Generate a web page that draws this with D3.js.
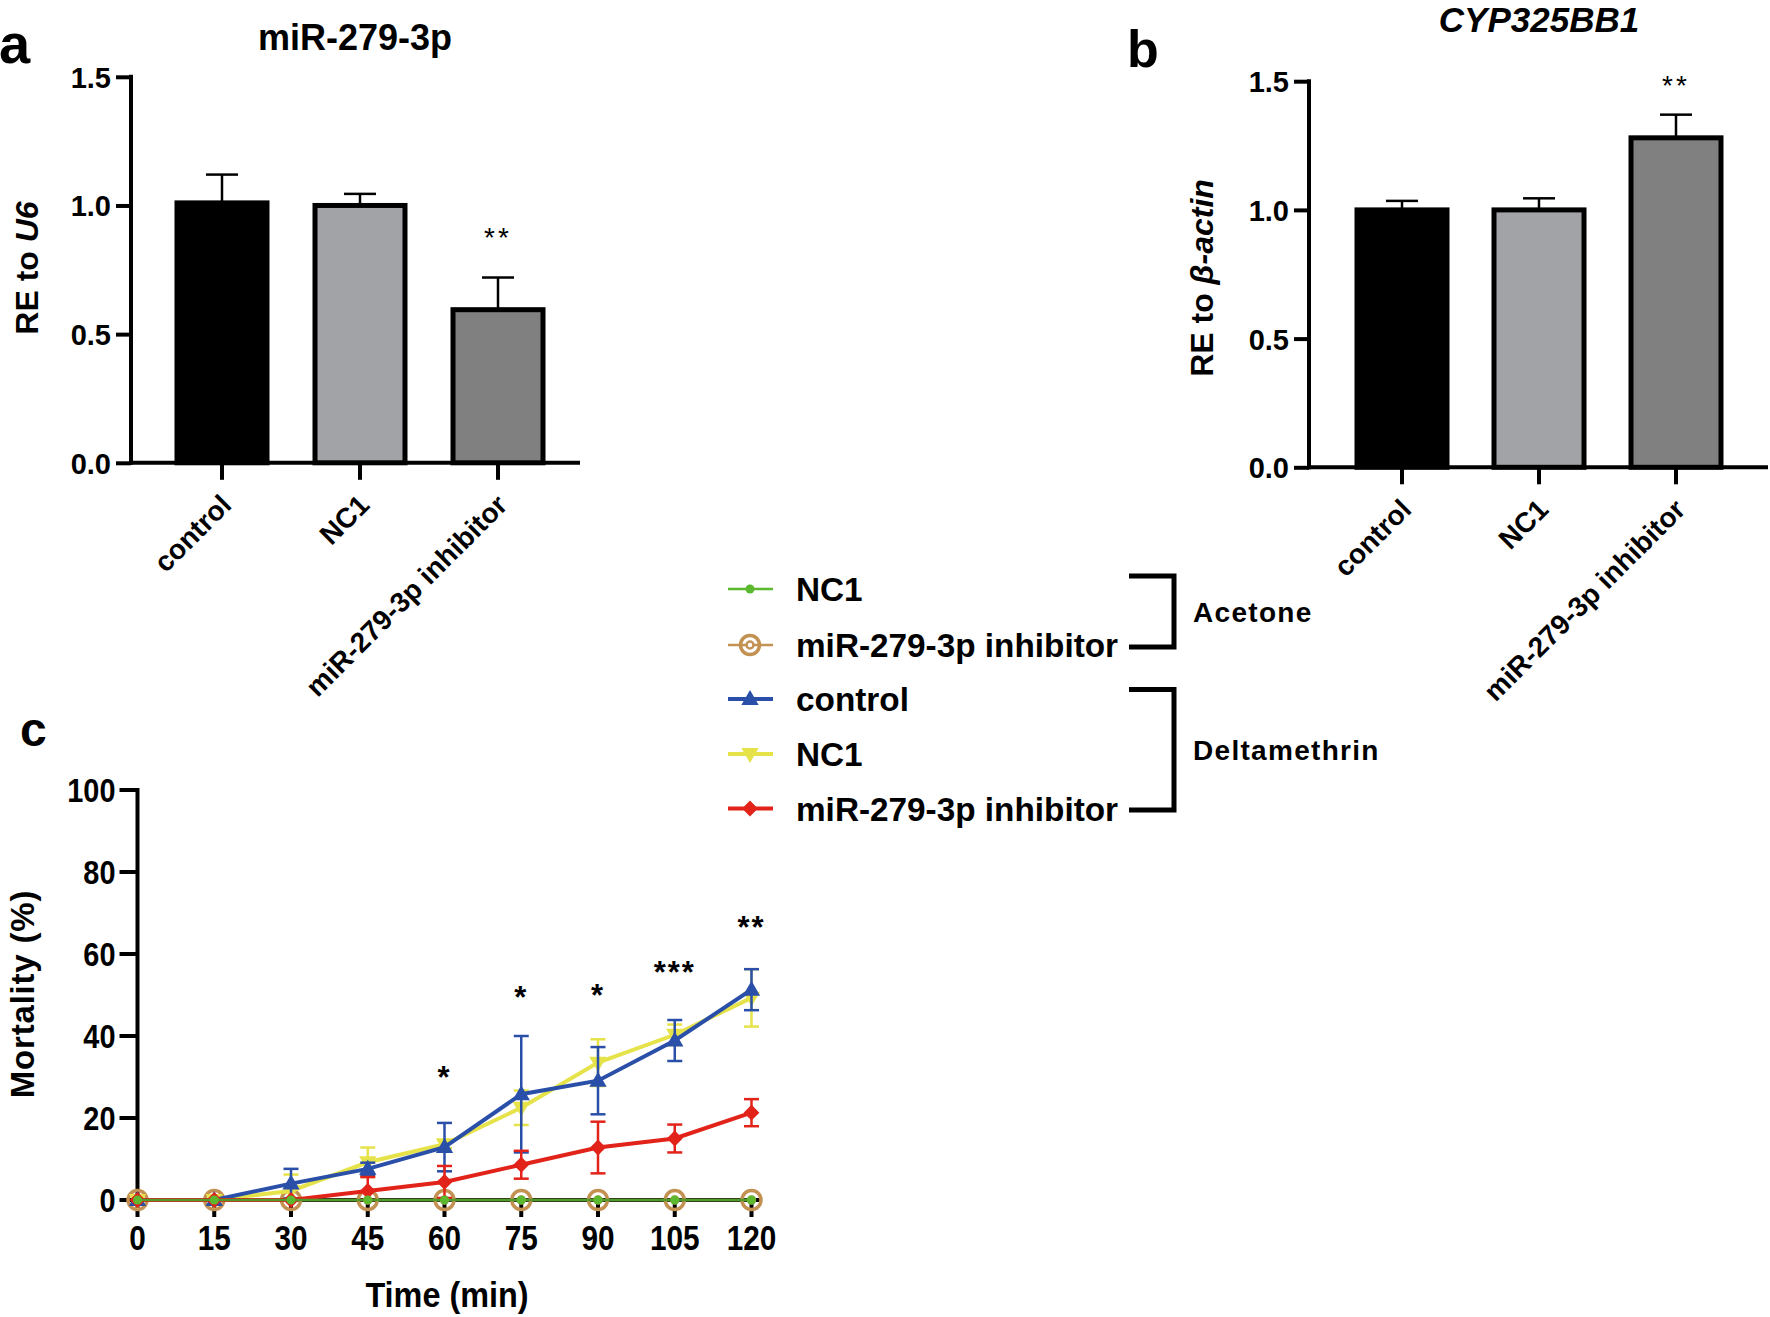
<!DOCTYPE html>
<html><head><meta charset="utf-8">
<script src="https://cdn.jsdelivr.net/npm/d3@7"></script>
<style>
html,body{margin:0;padding:0;background:#fff;}
svg{display:block;}
text{font-family:"Liberation Sans", Arial, Helvetica, sans-serif; font-weight:bold; fill:#000;}
</style></head><body>
<svg id="chart" width="1770" height="1317"></svg>
<script>
// ---------- data ----------
const categories = ["control", "NC1", "miR-279-3p inhibitor"];
const barColors = ["#000000", "#a2a3a7", "#808080"];
const miR279Mean = [1.01, 1.00, 0.595];
const miR279Err = [0.11, 0.045, 0.125];
const miR279Sig = ["", "", "**"];
const miR279SigLevel = [0, 0, 0.90];
const cypMean = [1.00, 1.00, 1.28];
const cypErr = [0.035, 0.045, 0.09];
const cypSig = ["", "", "**"];
const cypSigLevel = [0, 0, 1.51];
const barTicks = [0, 0.5, 1.0, 1.5];

const times = [0, 15, 30, 45, 60, 75, 90, 105, 120];
const mortTicks = [0, 20, 40, 60, 80, 100];
const acetoneNC1 = [0, 0, 0, 0, 0, 0, 0, 0, 0];
const acetoneInhibitor = [0, 0, 0, 0, 0, 0, 0, 0, 0];
const deltaControl = [0, 0, 4.0, 7.6, 12.9, 25.8, 29.1, 38.9, 51.3];
const deltaControlErr = [0, 0, 3.6, 1.5, 5.9, 14.2, 8.2, 5.0, 5.0];
const deltaNC1 = [0, 0, 2.2, 9.2, 13.6, 22.5, 33.5, 40.3, 49.3];
const deltaNC1Err = [0, 0, 4.0, 3.6, 1.0, 4.2, 5.7, 2.5, 7.0];
const deltaInhibitor = [0, 0, 0, 2.2, 4.4, 8.6, 12.8, 15.0, 21.3];
const deltaInhibitorErr = [0, 0, 0, 3.4, 3.9, 3.4, 6.3, 3.4, 3.3];
const sigTimes = [60, 75, 90, 105, 120];
const sigLabels = ["*", "*", "*", "***", "**"];
const sigLevels = [31.5, 51.0, 51.4, 57.1, 68.0];

const legendLabels = ["NC1", "miR-279-3p inhibitor", "control", "NC1", "miR-279-3p inhibitor"];
const legendColors = ["#5cb82e", "#c39253", "#2a4fa8", "#e6e34a", "#e2231a"];
const legendSymbols = ["dot", "ring", "triUp", "triDown", "diamond"];
const groupLabels = ["Acetone", "Deltamethrin"];

// ---------- drawing ----------
const svg = d3.select("#chart");
const AX = 4;

function ctext(g, x, y, str, size, sx, anchor) {
  return g.append("text")
    .attr("transform", `translate(${x},${y}) scale(${sx},1)`)
    .attr("text-anchor", anchor)
    .style("font-size", size + "px")
    .text(str);
}

function barPanel(o) {
  const g = svg.append("g");
  const y = d3.scaleLinear().domain([0, 1.5]).range([o.y0, o.y15]);
  const x = d3.scalePoint().domain(categories).range([o.c0, o.c2]);
  // y axis
  const ya = g.append("g").attr("transform", `translate(${o.axisX},0)`)
    .call(d3.axisLeft(y).tickValues(barTicks).tickFormat(d3.format(".1f")).tickSize(15).tickSizeOuter(0).tickPadding(5));
  ya.select(".domain").attr("stroke-width", AX).attr("d", `M0,${o.y0 + 2}V${o.y15 - 2}`);
  ya.selectAll(".tick line").attr("stroke-width", AX);
  ya.selectAll(".tick text").style("font-size", "29px").style("font-family", '"Liberation Sans", Arial, sans-serif').style("font-weight", "bold").attr("dy", "0.36em");
  // x axis line
  g.append("line").attr("x1", o.axisX - 2).attr("x2", o.xEnd).attr("y1", o.y0).attr("y2", o.y0)
    .attr("stroke", "#000").attr("stroke-width", AX);
  // error bars
  categories.forEach((c, i) => {
    const cx = x(c);
    const top = y(o.mean[i] + o.err[i]);
    g.append("line").attr("x1", cx).attr("x2", cx).attr("y1", y(o.mean[i])).attr("y2", top).attr("stroke", "#000").attr("stroke-width", 2.5);
    g.append("line").attr("x1", cx - 16).attr("x2", cx + 16).attr("y1", top).attr("y2", top).attr("stroke", "#000").attr("stroke-width", 2.5);
  });
  // bars
  g.selectAll("rect.bar").data(categories).join("rect")
    .attr("x", c => x(c) - 45).attr("width", 90)
    .attr("y", (c, i) => y(o.mean[i])).attr("height", (c, i) => y(0) - y(o.mean[i]))
    .attr("fill", (c, i) => barColors[i]).attr("stroke", "#000").attr("stroke-width", 5);
  // x ticks
  categories.forEach(c => {
    g.append("line").attr("x1", x(c)).attr("x2", x(c)).attr("y1", o.y0).attr("y2", o.y0 + 17).attr("stroke", "#000").attr("stroke-width", AX);
    g.append("text").attr("transform", `translate(${x(c) + 4},${o.y0 + 37}) rotate(-45)`)
      .attr("text-anchor", "end").attr("dy", "0.35em").style("font-size", "28px").text(c);
  });
  // significance
  categories.forEach((c, i) => {
    if (!o.sig[i]) return;
    g.append("text").attr("x", x(c)).attr("y", y(o.sigLevel[i]) + 16).attr("text-anchor", "middle")
      .style("font-size", "28px").style("font-weight", "normal").style("letter-spacing", "3px").text(o.sig[i]);
  });
  // title
  const t = g.append("text").attr("x", o.titleX).attr("y", o.titleY).attr("text-anchor", "middle").style("font-size", o.titleSize + "px").text(o.title);
  if (o.titleItalic) t.style("font-style", "italic");
  // y label
  const yl = g.append("text").attr("transform", `translate(${o.ylX},${o.ylY}) rotate(-90)`).attr("text-anchor", "middle").style("font-size", "32px");
  yl.append("tspan").text(o.ylPlain);
  yl.append("tspan").style("font-style", "italic").text(o.ylItalic);
  // panel letter
  g.append("text").attr("x", o.letterX).attr("y", o.letterY).style("font-size", o.letterSize + "px").text(o.letter);
}

barPanel({ y0: 462.8, y15: 76.8, c0: 222, c2: 498, axisX: 131, xEnd: 580, mean: miR279Mean, err: miR279Err,
  sig: miR279Sig, sigLevel: miR279SigLevel, title: "miR-279-3p", titleX: 355, titleY: 50, titleSize: 36, titleItalic: false,
  ylX: 38, ylY: 268, ylPlain: "RE to ", ylItalic: "U6", letter: "a", letterX: -1, letterY: 63, letterSize: 56 });

barPanel({ y0: 467.3, y15: 81.2, c0: 1402, c2: 1676, axisX: 1309, xEnd: 1768, mean: cypMean, err: cypErr,
  sig: cypSig, sigLevel: cypSigLevel, title: "CYP325BB1", titleX: 1539, titleY: 32, titleSize: 35, titleItalic: true,
  ylX: 1213, ylY: 278, ylPlain: "RE to ", ylItalic: "β-actin", letter: "b", letterX: 1127, letterY: 67, letterSize: 52 });

// ---------- panel c ----------
const gc = svg.append("g");
const xc = d3.scaleLinear().domain([0, 120]).range([137.5, 751.5]);
const yc = d3.scaleLinear().domain([0, 100]).range([1200, 790]);

// y axis
gc.append("line").attr("x1", xc(0)).attr("x2", xc(0)).attr("y1", yc(0) + 2).attr("y2", yc(100) - 2).attr("stroke", "#000").attr("stroke-width", AX);
mortTicks.forEach(v => {
  gc.append("line").attr("x1", xc(0) - 18).attr("x2", xc(0)).attr("y1", yc(v)).attr("y2", yc(v)).attr("stroke", "#000").attr("stroke-width", AX);
  ctext(gc, xc(0) - 22, yc(v) + 12, String(v), 34, 0.85, "end");
});
// x axis
gc.append("line").attr("x1", xc(0) - 2).attr("x2", 760).attr("y1", yc(0)).attr("y2", yc(0)).attr("stroke", "#000").attr("stroke-width", AX);
times.forEach(t => {
  gc.append("line").attr("x1", xc(t)).attr("x2", xc(t)).attr("y1", yc(0)).attr("y2", yc(0) + 17).attr("stroke", "#000").attr("stroke-width", AX);
  ctext(gc, xc(t), 1250, String(t), 35, 0.85, "middle");
});
ctext(gc, 447, 1307, "Time (min)", 36, 0.9, "middle");
gc.append("text").attr("transform", "translate(34,994) rotate(-90)").attr("text-anchor", "middle")
  .style("font-size", "33px").style("letter-spacing", "0.8px").text("Mortality (%)");
gc.append("text").attr("x", 20).attr("y", 746).style("font-size", "48px").text("c");

const line = d3.line().x((d, i) => xc(times[i])).y(d => yc(d));

function drawMarker(g, type, color, cx, cy) {
  if (type === "dot") {
    g.append("circle").attr("cx", cx).attr("cy", cy).attr("r", 4.5).attr("fill", color);
  } else if (type === "ring") {
    g.append("circle").attr("cx", cx).attr("cy", cy).attr("r", 9.5).attr("fill", "none").attr("stroke", color).attr("stroke-width", 3.5);
    g.append("circle").attr("cx", cx).attr("cy", cy).attr("r", 3.5).attr("fill", "#fff").attr("stroke", color).attr("stroke-width", 2.5);
  } else if (type === "triUp") {
    g.append("path").attr("transform", `translate(${cx},${cy + 1})`).attr("d", d3.symbol(d3.symbolTriangle, 130)()).attr("fill", color);
  } else if (type === "triDown") {
    g.append("path").attr("transform", `translate(${cx},${cy - 1}) rotate(180)`).attr("d", d3.symbol(d3.symbolTriangle, 130)()).attr("fill", color);
  } else if (type === "diamond") {
    g.append("path").attr("transform", `translate(${cx},${cy}) rotate(45)`).attr("d", d3.symbol(d3.symbolSquare, 125)()).attr("fill", color);
  }
}

function series(vals, errs, color, type, lw) {
  const g = gc.append("g");
  if (errs) {
    vals.forEach((v, i) => {
      if (!errs[i]) return;
      const cx = xc(times[i]);
      [v + errs[i], v - errs[i]].forEach(e => {
        const ev = Math.max(0, e);
        g.append("line").attr("x1", cx).attr("x2", cx).attr("y1", yc(v)).attr("y2", yc(ev)).attr("stroke", color).attr("stroke-width", 2.5);
        g.append("line").attr("x1", cx - 7.5).attr("x2", cx + 7.5).attr("y1", yc(ev)).attr("y2", yc(ev)).attr("stroke", color).attr("stroke-width", 2.5);
      });
    });
  }
  g.append("path").attr("d", line(vals)).attr("fill", "none").attr("stroke", color).attr("stroke-width", lw);
  vals.forEach((v, i) => drawMarker(g, type, color, xc(times[i]), yc(v)));
}

series(acetoneInhibitor, null, legendColors[1], "ring", 2.5);
series(deltaNC1, deltaNC1Err, legendColors[3], "triDown", 4);
series(deltaControl, deltaControlErr, legendColors[2], "triUp", 4);
series(deltaInhibitor, deltaInhibitorErr, legendColors[4], "diamond", 4);
series(acetoneNC1, null, "#4e9a2a", "none", 2.5);
acetoneNC1.forEach((v, i) => drawMarker(gc, "dot", legendColors[0], xc(times[i]), yc(v)));

sigTimes.forEach((t, i) => {
  gc.append("text").attr("x", xc(t)).attr("y", yc(sigLevels[i]) + 17).attr("text-anchor", "middle")
    .style("font-size", "31px").style("letter-spacing", "2px").text(sigLabels[i]);
});

// ---------- legend ----------
const gl = svg.append("g");
const legendY = [589, 645, 699, 754, 808.5];
legendLabels.forEach((lab, i) => {
  const ly = legendY[i];
  gl.append("line").attr("x1", 728).attr("x2", 773).attr("y1", ly).attr("y2", ly).attr("stroke", legendColors[i]).attr("stroke-width", i < 2 ? 2.5 : 4);
  drawMarker(gl, legendSymbols[i], legendColors[i], 750, ly);
  ctext(gl, 796, ly + 12, lab, 34, 0.98, "start");
});
// brackets
const brackets = [[576, 647], [689.5, 810]];
brackets.forEach((b, i) => {
  gl.append("path").attr("d", `M1129,${b[0]}H1174V${b[1]}H1129`).attr("fill", "none").attr("stroke", "#000").attr("stroke-width", 5);
  gl.append("text").attr("x", 1193).attr("y", (b[0] + b[1]) / 2 + 10).style("font-size", "28px").style("letter-spacing", "1.3px").text(groupLabels[i]);
});
</script>
</body></html>
